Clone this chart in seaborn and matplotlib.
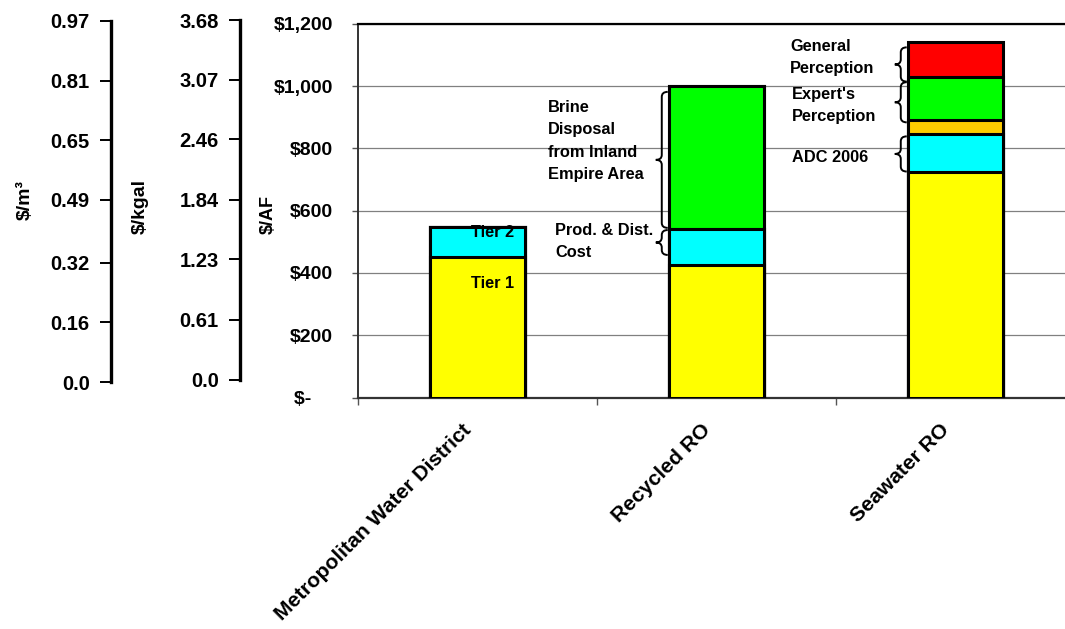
import numpy as np
import pandas as pd
import matplotlib
matplotlib.use("Agg")
import matplotlib.pyplot as plt
import matplotlib.transforms as mtransforms
import seaborn as sns
from matplotlib.path import Path
from matplotlib.patches import PathPatch
from matplotlib.ticker import FuncFormatter, FixedLocator, FixedFormatter

# ---------------- data ----------------
categories = ["Metropolitan Water District", "Recycled RO", "Seawater RO"]
base_cost = [452, 426, 725]          # yellow: Tier 1 / base production
tier2_prod = [96, 114, 120]          # cyan: Tier 2 / Prod. & Dist. / ADC 2006
adc_extra = [0, 0, 45]               # orange
brine_expert = [0, 460, 140]         # green: Brine disposal / Expert's perception
general_perc = [0, 0, 113]           # red: General perception
layer_colors = ["#FFFF00", "#00FFFF", "#FFCC00", "#00FF00", "#FF0000"]

af_ticks = [0, 200, 400, 600, 800, 1000, 1200]
m3_ticks = [0.0, 0.16, 0.32, 0.49, 0.65, 0.81, 0.97]
m3_labels = ["0.0", "0.16", "0.32", "0.49", "0.65", "0.81", "0.97"]
kgal_ticks = [0.0, 0.61, 1.23, 1.84, 2.46, 3.07, 3.68]
kgal_labels = ["0.0", "0.61", "1.23", "1.84", "2.46", "3.07", "3.68"]

# annotations (bar index, low, high)
brace_bar = [1, 1, 2, 2, 2]
brace_lo = [458, 545, 1015, 884, 726]
brace_hi = [538, 982, 1125, 1013, 839]

# ---------------- style ----------------
sns.set_style("white")
plt.rcParams["font.family"] = ["Liberation Sans", "DejaVu Sans"]
plt.rcParams["font.weight"] = "bold"
for k in ["text.color", "axes.labelcolor", "xtick.color", "ytick.color"]:
    plt.rcParams[k] = "black"

W, H = 1065, 629
fig = plt.figure(figsize=(W / 100, H / 100), dpi=100)

def fx(px):
    return px / W

def fy(py):
    return 1 - py / H

# main axes
ax = fig.add_axes([fx(358), fy(397.5), 717 / W, 373.5 / H])

layers = [base_cost, tier2_prod, adc_extra, brine_expert, general_perc]
cum = np.cumsum(np.array(layers, dtype=float), axis=0)
for i in range(len(layers) - 1, -1, -1):
    df = pd.DataFrame({"cat": categories, "val": cum[i]})
    sns.barplot(data=df, x="cat", y="val", order=categories, color=layer_colors[i],
                saturation=1, width=0.4, edgecolor="black", linewidth=2.2,
                errorbar=None, ax=ax, zorder=3)

ax.set_xlim(-0.5, 2.5)
ax.set_ylim(0, 1200)
ax.set_xlabel("")
ax.set_ylabel("$/AF", fontsize=13, fontweight="bold")
ax.yaxis.set_label_coords((277 - 358) / 717, (397.5 - 215) / 373.5)

ax.set_yticks(af_ticks)
ax.yaxis.set_major_formatter(FuncFormatter(lambda v, p: "$-    " if v == 0 else f"${v:,.0f}"))
ax.tick_params(axis="y", which="major", left=True, length=4, width=1, color="#555555",
               labelcolor="black", pad=14, labelsize=14)
ax.yaxis.grid(True, color="#808080", lw=0.9)
ax.set_axisbelow(True)

ax.set_xticks([0, 1, 2])
ax.set_xticklabels(categories, rotation=45, ha="right", rotation_mode="anchor",
                   va="center", fontsize=15.2, fontweight="bold")
ax.tick_params(axis="x", which="major", length=0, pad=21.5, labelcolor="black")
shift = mtransforms.ScaledTranslation(-9 / 100, 0, fig.dpi_scale_trans)
for lab in ax.get_xticklabels():
    lab.set_transform(lab.get_transform() + shift)
ax.set_xticks([-0.5, 0.5, 1.5, 2.5], minor=True)
ax.tick_params(axis="x", which="minor", bottom=True, length=5, width=1, color="#555555")

ax.spines["right"].set_visible(False)
ax.spines["top"].set_color("black")
ax.spines["top"].set_linewidth(1.6)
ax.spines["left"].set_color("#333333")
ax.spines["left"].set_linewidth(1.4)
ax.spines["bottom"].set_color("#333333")
ax.spines["bottom"].set_linewidth(1.6)

# braces
def brace(ax, xr, lo, hi, w=0.05, r=16):
    xm = xr - w / 2
    xl = xr - w
    mid = (lo + hi) / 2
    verts = [(xr, hi), (xm, hi), (xm, hi - r), (xm, mid + r), (xm, mid), (xl, mid),
             (xm, mid), (xm, mid - r), (xm, lo + r), (xm, lo), (xr, lo)]
    codes = [Path.MOVETO, Path.CURVE3, Path.CURVE3, Path.LINETO, Path.CURVE3, Path.CURVE3,
             Path.CURVE3, Path.CURVE3, Path.LINETO, Path.CURVE3, Path.CURVE3]
    ax.add_patch(PathPatch(Path(verts, codes), fill=False, lw=1.4, edgecolor="black",
                           zorder=4, clip_on=False))

for b, lo, hi in zip(brace_bar, brace_lo, brace_hi):
    brace(ax, b - 0.2 - 0.004, lo, hi)

tk = dict(fontsize=11.8, fontweight="bold", color="black", zorder=5)
ax.text(0.065, 366, "Tier 1", ha="center", va="center", **tk)
ax.text(0.065, 530, "Tier 2", ha="center", va="center", **tk)
ax.text(0.295, 955, "Brine\nDisposal\nfrom Inland\nEmpire Area", ha="left", va="top",
        linespacing=1.6, **tk)
ax.text(0.324, 560, "Prod. & Dist.\nCost", ha="left", va="top", linespacing=1.6, **tk)
ax.text(1.308, 1152, "General\nPerception", ha="left", va="top", linespacing=1.6, **tk)
ax.text(1.316, 999, "Expert's\nPerception", ha="left", va="top", linespacing=1.6, **tk)
ax.text(1.316, 771, "ADC 2006", ha="left", va="center", **tk)

# secondary scales
def side_axis(x_px, top_px, bot_px, lim, ticks, labels, pad):
    a = fig.add_axes([fx(x_px), fy(bot_px), 0.0005, (bot_px - top_px) / H])
    a.patch.set_visible(False)
    for s in ["right", "top", "bottom"]:
        a.spines[s].set_visible(False)
    a.spines["left"].set_linewidth(2.4)
    a.spines["left"].set_color("black")
    a.set_ylim(*lim)
    a.set_xticks([])
    a.yaxis.set_major_locator(FixedLocator(ticks))
    a.yaxis.set_major_formatter(FixedFormatter(labels))
    a.tick_params(axis="y", left=True, length=8, width=1.4, color="black", pad=pad,
                  labelsize=14.5, labelcolor="black")
    for t in a.get_yticklabels():
        t.set_fontweight("bold")
    return a

side_axis(110.5, 21, 382, (0, 0.97), m3_ticks, m3_labels, 7)
side_axis(239.5, 20, 379.5, (0, 3.68), kgal_ticks, kgal_labels, 7)

fig.text(fx(25), fy(200), "$/m³", rotation=90, ha="center", va="center",
         fontsize=14, fontweight="bold", color="black")
fig.text(fx(140), fy(207), "$/kgal", rotation=90, ha="center", va="center",
         fontsize=14, fontweight="bold", color="black")

fig.savefig("out.png", dpi=100)
